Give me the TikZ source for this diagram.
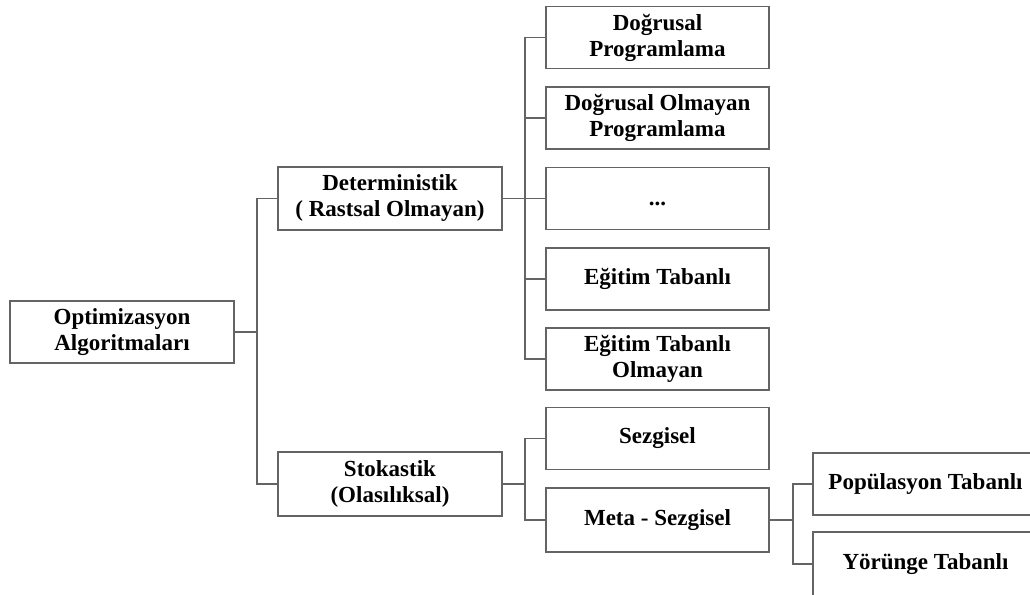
\documentclass[tikz,border=0pt]{standalone}
\usepackage{fontspec}
\setmainfont{Liberation Serif}
\begin{document}
\begin{tikzpicture}[x=1pt,y=-1pt,
  every node/.style={font=\bfseries\fontsize{23}{26}\selectfont, text=black},
  box/.style={draw=linegray, line width=1.7pt, fill=white, align=center,
    minimum width=224pt, minimum height=62pt, inner sep=2pt},
  wire/.style={draw=linegray, line width=1.7pt}]
\definecolor{linegray}{RGB}{100,100,100}
\useasboundingbox (0,0) rectangle (1030,594);
\clip (0,0) rectangle (1030,594);
\fill[white] (0,0) rectangle (1030,594);

% root and first level
\node[box] (opt) at (122,332) {Optimizasyon\\Algoritmaları};
\node[box, minimum height=63pt] (det) at (390,198.5) {Deterministik\\( Rastsal Olmayan)};
\node[box, minimum height=64pt] (sto) at (390,484) {Stokastik\\(Olasılıksal)};

% deterministic methods
\node[box, minimum width=223pt] (r1) at (657.5,37.5) {Doğrusal\\Programlama};
\node[box, minimum width=223pt] (r2) at (657.5,118) {Doğrusal Olmayan\\Programlama};
\node[box, minimum width=223pt] (r3) at (657.5,198.5) {\smash{\raisebox{-7pt}{...}}};
\node[box, minimum width=223pt] (r4) at (657.5,279) {Eğitim Tabanlı};
\node[box, minimum width=223pt] (r5) at (657.5,359) {Eğitim Tabanlı\\Olmayan};

% stochastic methods
\node[box, minimum width=223pt] (sez) at (657.5,438.5) {Sezgisel};
\node[box, minimum width=223pt, minimum height=64pt] (meta) at (657.5,520) {Meta - Sezgisel};

% metaheuristic families
\node[box, minimum width=225pt] (pop) at (925.5,484) {Popülasyon Tabanlı};
\node[box, minimum width=225pt, minimum height=64pt] (yor) at (925.5,564) {Yörünge Tabanlı};

% connectors
\draw[wire] (opt.east) -- ++(22,0) coordinate (t0);
\draw[wire] (t0) |- (det.west);
\draw[wire] (t0) |- (sto.west);

\draw[wire] (det.east) -- ++(22,0) coordinate (t1);
\foreach \n in {r1,r2,r3,r4,r5} \draw[wire] (t1) |- (\n.west);

\draw[wire] (sto.east) -- ++(22,0) coordinate (t2);
\draw[wire] (t2) |- (sez.west);
\draw[wire] (t2) |- (meta.west);

\draw[wire] (meta.east) -- ++(23,0) coordinate (t3);
\draw[wire] (t3) |- (pop.west);
\draw[wire] (t3) |- (yor.west);
\end{tikzpicture}
\end{document}
